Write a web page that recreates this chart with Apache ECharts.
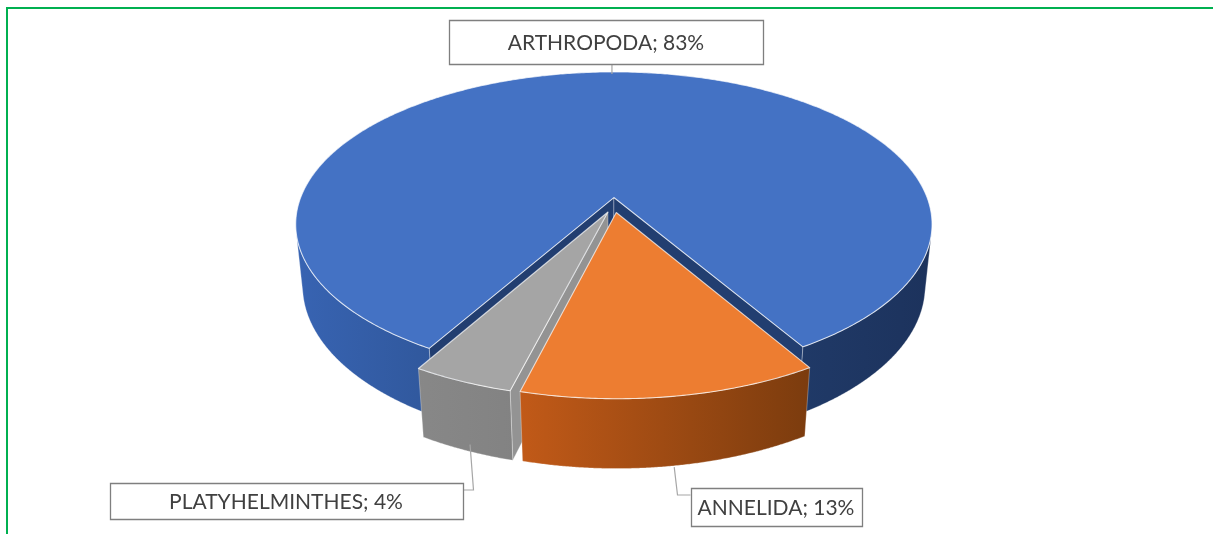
<!DOCTYPE html>
<html><head><meta charset="utf-8">
<script src="https://cdn.jsdelivr.net/npm/echarts@6/dist/echarts.min.js"></script>
<style>html,body{margin:0;padding:0;background:#fff}#chart{width:1213px;height:534px}</style>
</head><body><div id="chart"></div>
<script>
// ---- data ----
const categories = ['ARTHROPODA', 'ANNELIDA', 'PLATYHELMINTHES'];
const values = [83.1, 12.6, 4.3];

// ---- styles / layout ----
const topColors = ['#4472C4', '#ED7D31', '#A5A5A5'];
// wall gradients across the whole pie width (global x from left rim to right rim)
const wallStops = [
  [[0, '#3864B3'], [0.25, '#2F5699'], [0.72, '#213C6B'], [1, '#1C325C']],
  [[0, '#D0621F'], [0.35, '#C25A18'], [0.8, '#7C3C0E'], [1, '#6E340B']],
  [[0, '#8E8E8E'], [0.3, '#848484'], [1, '#6A6A6A']]
];
const cutColors = ['#223E70', '#9A4A14', '#939393'];
const GEO = { cx: 614, cy: 205, scale: 316, tilt: 28.4, dist: 4.97, depth: 0.225, explode: 0.05, start: 210 };
// label boxes: centre, size, leader side
const LABELS = [
  { x: 606, y: 42, w: 314, h: 44, side: 'bottom' },
  { x: 776, y: 507, w: 171, h: 38, side: 'left' },
  { x: 286, y: 501, w: 353, h: 36, side: 'right' }
];
const FONT = '21px Lato';

const rad = d => d * Math.PI / 180;
const cphi = Math.cos(rad(GEO.tilt)), sphi = Math.sin(rad(GEO.tilt));
function proj(X, Y, Z) {
  const yv = Y * cphi - Z * sphi;
  const zc = Z * cphi + Y * sphi;
  const k = GEO.dist / (GEO.dist - zc);
  return [GEO.cx + GEO.scale * X * k, GEO.cy - GEO.scale * yv * k];
}
const pieLeft = GEO.cx - GEO.scale * 1.02, pieRight = GEO.cx + GEO.scale * 1.02;

function renderItem(params, api) {
  const i = params.dataIndex;
  const total = values.reduce((a, b) => a + b, 0);
  let acc = 0;
  for (let k = 0; k < i; k++) acc += values[k];
  const v = api.value(0);
  const a0 = GEO.start + acc / total * 360;
  const a1 = a0 + v / total * 360;
  const mid = (a0 + a1) / 2;
  const ex = GEO.explode * Math.sin(rad(mid));
  const ez = -GEO.explode * Math.cos(rad(mid));
  const H = GEO.depth;
  const rim = (t, Y) => proj(ex + Math.sin(rad(t)), Y, ez - Math.cos(rad(t)));
  const ctr = Y => proj(ex, Y, ez);
  const Dc = GEO.dist * cphi;
  const depthZ = 20 + Math.round(ez * 1000);
  const children = [];
  const wallFill = {
    type: 'linear', x: pieLeft, y: 0, x2: pieRight, y2: 0, global: true,
    colorStops: wallStops[i].map(s => ({ offset: s[0], color: s[1] }))
  };

  // outer wall, visible runs only
  const step = 0.25;
  let run = [];
  const flush = () => {
    if (run.length > 1) {
      const top = run.map(t => rim(t, 0));
      const bot = run.slice().reverse().map(t => rim(t, -H));
      children.push({
        type: 'polygon', z2: depthZ,
        shape: { points: top.concat(bot) },
        style: { fill: wallFill, stroke: 'rgba(255,255,255,0.3)', lineWidth: 1 }
      });
    }
    run = [];
  };
  for (let t = a0; t <= a1 + 1e-9; t += step) {
    const tt = Math.min(t, a1);
    const vis = -1 - ex * Math.sin(rad(tt)) - (Dc - ez) * Math.cos(rad(tt)) > 0;
    if (vis) run.push(tt); else flush();
  }
  if (run.length && run[run.length - 1] < a1) run.push(a1);
  flush();

  // cut faces
  const startVis = Math.cos(rad(a0)) * ex - Math.sin(rad(a0)) * (Dc - ez) > 0;
  const endVis = -Math.cos(rad(a1)) * ex + Math.sin(rad(a1)) * (Dc - ez) > 0;
  [[startVis, a0], [endVis, a1]].forEach(([vis, t]) => {
    if (!vis) return;
    children.push({
      type: 'polygon', z2: depthZ - 1,
      shape: { points: [ctr(0), rim(t, 0), rim(t, -H), ctr(-H)] },
      style: { fill: cutColors[i], stroke: 'rgba(255,255,255,0.3)', lineWidth: 1 }
    });
  });

  // top face
  const pts = [ctr(0)];
  for (let t = a0; t < a1; t += 0.5) pts.push(rim(t, 0));
  pts.push(rim(a1, 0));
  children.push({
    type: 'polygon', z2: 100,
    shape: { points: pts },
    style: { fill: topColors[i], stroke: 'rgba(255,255,255,0.7)', lineWidth: 1.1, lineJoin: 'round' }
  });

  // label + leader
  const L = LABELS[i];
  const pct = Math.round(v / total * 100);
  let leader;
  if (L.side === 'bottom') {
    const p = rim(mid, 0);
    leader = [[p[0], L.y + L.h / 2], [p[0], p[1] + 2]];
  } else {
    const p = rim(mid, -H);
    const ey = L.y - L.h / 2 + 7;
    if (L.side === 'left') {
      const bx = L.x - L.w / 2;
      leader = [[bx, ey], [bx - 13, ey], [p[0] + 4, p[1] + 1]];
    } else {
      const bx = L.x + L.w / 2;
      leader = [[bx, ey], [bx + 11, ey], [p[0] + 4, p[1] - 6]];
    }
  }
  children.push({
    type: 'polyline', z2: 150, shape: { points: leader },
    style: { stroke: '#A6A6A6', lineWidth: 1.2, fill: null }
  });
  children.push({
    type: 'rect', z2: 190,
    shape: { x: Math.round(L.x - L.w / 2) + 0.5, y: Math.round(L.y - L.h / 2) + 0.5, width: L.w, height: L.h },
    style: { fill: '#fff', stroke: '#7F7F7F', lineWidth: 1.3 }
  });
  children.push({
    type: 'text', z2: 200, x: L.x, y: L.y + 1,
    style: { text: categories[i] + '; ' + pct + '%', font: FONT, fill: '#404040',
      align: 'center', verticalAlign: 'middle', textAlign: 'center', textVerticalAlign: 'middle' }
  });

  return { type: 'group', children };
}

const chart = echarts.init(document.getElementById('chart'), null, { renderer: 'canvas' });
chart.setOption({
  animation: false,
  graphic: [{
    type: 'polyline', silent: true, z: -1,
    shape: { points: [[7, 540], [7, 8], [1220, 8]] },
    style: { stroke: '#00B050', lineWidth: 2, fill: null }
  }],
  series: [{
    type: 'custom', coordinateSystem: 'none', renderItem,
    data: values.map((v, i) => ({ name: categories[i], value: v }))
  }]
});
</script></body></html>
